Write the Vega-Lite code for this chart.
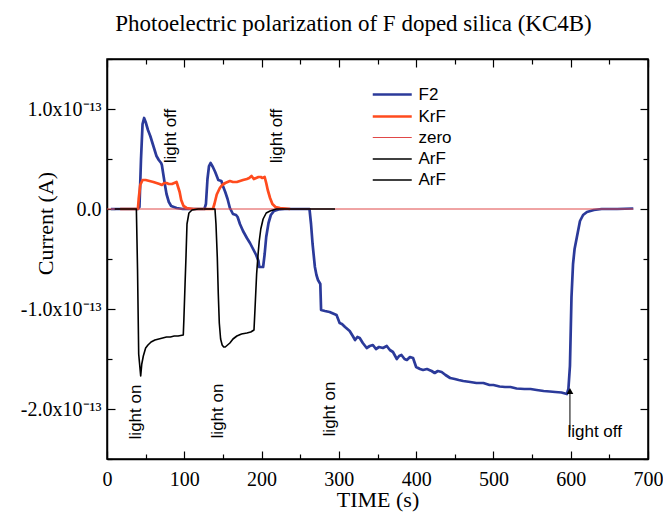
{
  "$schema": "https://vega.github.io/schema/vega-lite/v6.json",
  "width": 541,
  "height": 400,
  "autosize": "none",
  "padding": {"left": 107, "top": 59, "right": 15, "bottom": 56},
  "background": "white",
  "title": {
    "text": "Photoelectric polarization of F doped silica (KC4B)",
    "font": "Liberation Serif",
    "fontSize": 23,
    "fontWeight": "normal",
    "color": "black",
    "anchor": "middle",
    "frame": "group",
    "dx": -24,
    "offset": 22
  },
  "config": {
    "view": {"stroke": "black", "strokeWidth": 1.5},
    "axis": {
      "domainColor": "black",
      "domainWidth": 1.5,
      "tickColor": "black",
      "tickWidth": 1.2,
      "labelFont": "Liberation Serif",
      "labelFontSize": 20,
      "labelColor": "black",
      "labelFlush": false,
      "titleFont": "Liberation Serif",
      "titleFontSize": 22,
      "titleFontWeight": "normal",
      "titleColor": "black",
      "grid": false
    }
  },
  "datasets": {
    "curves": [
      {"series": "F2", "t": 5, "i": 0},
      {"series": "F2", "t": 20, "i": 0},
      {"series": "F2", "t": 40, "i": 0},
      {"series": "F2", "t": 42, "i": 0.02e-13},
      {"series": "F2", "t": 44, "i": 0.5e-13},
      {"series": "F2", "t": 46, "i": 0.85e-13},
      {"series": "F2", "t": 48, "i": 0.91e-13},
      {"series": "F2", "t": 50, "i": 0.87e-13},
      {"series": "F2", "t": 53, "i": 0.79e-13},
      {"series": "F2", "t": 56, "i": 0.73e-13},
      {"series": "F2", "t": 60, "i": 0.63e-13},
      {"series": "F2", "t": 64, "i": 0.53e-13},
      {"series": "F2", "t": 67, "i": 0.49e-13},
      {"series": "F2", "t": 70, "i": 0.46e-13},
      {"series": "F2", "t": 71, "i": 0.44e-13},
      {"series": "F2", "t": 73, "i": 0.34e-13},
      {"series": "F2", "t": 75, "i": 0.24e-13},
      {"series": "F2", "t": 77, "i": 0.15e-13},
      {"series": "F2", "t": 80, "i": 0.07e-13},
      {"series": "F2", "t": 83, "i": 0.03e-13},
      {"series": "F2", "t": 90, "i": 0.01e-13},
      {"series": "F2", "t": 98, "i": 0},
      {"series": "F2", "t": 126, "i": 0},
      {"series": "F2", "t": 128, "i": 0.05e-13},
      {"series": "F2", "t": 130, "i": 0.3e-13},
      {"series": "F2", "t": 132, "i": 0.43e-13},
      {"series": "F2", "t": 134, "i": 0.46e-13},
      {"series": "F2", "t": 137, "i": 0.42e-13},
      {"series": "F2", "t": 140, "i": 0.37e-13},
      {"series": "F2", "t": 142, "i": 0.33e-13},
      {"series": "F2", "t": 144, "i": 0.29e-13},
      {"series": "F2", "t": 148, "i": 0.28e-13},
      {"series": "F2", "t": 150, "i": 0.23e-13},
      {"series": "F2", "t": 153, "i": 0.17e-13},
      {"series": "F2", "t": 156, "i": 0.1e-13},
      {"series": "F2", "t": 159, "i": 0.01e-13},
      {"series": "F2", "t": 163, "i": -0.05e-13},
      {"series": "F2", "t": 167, "i": -0.06e-13},
      {"series": "F2", "t": 169, "i": -0.08e-13},
      {"series": "F2", "t": 172, "i": -0.15e-13},
      {"series": "F2", "t": 176, "i": -0.22e-13},
      {"series": "F2", "t": 181, "i": -0.29e-13},
      {"series": "F2", "t": 185, "i": -0.34e-13},
      {"series": "F2", "t": 189, "i": -0.4e-13},
      {"series": "F2", "t": 193, "i": -0.46e-13},
      {"series": "F2", "t": 196, "i": -0.52e-13},
      {"series": "F2", "t": 197, "i": -0.58e-13},
      {"series": "F2", "t": 202, "i": -0.58e-13},
      {"series": "F2", "t": 204, "i": -0.45e-13},
      {"series": "F2", "t": 206, "i": -0.28e-13},
      {"series": "F2", "t": 209, "i": -0.14e-13},
      {"series": "F2", "t": 212, "i": -0.06e-13},
      {"series": "F2", "t": 216, "i": -0.02e-13},
      {"series": "F2", "t": 222, "i": -0.005e-13},
      {"series": "F2", "t": 230, "i": 0},
      {"series": "F2", "t": 262, "i": 0},
      {"series": "F2", "t": 264, "i": -0.15e-13},
      {"series": "F2", "t": 266, "i": -0.35e-13},
      {"series": "F2", "t": 269, "i": -0.58e-13},
      {"series": "F2", "t": 271, "i": -0.66e-13},
      {"series": "F2", "t": 273, "i": -0.71e-13},
      {"series": "F2", "t": 276, "i": -0.75e-13},
      {"series": "F2", "t": 277, "i": -1.01e-13},
      {"series": "F2", "t": 282, "i": -1.02e-13},
      {"series": "F2", "t": 288, "i": -1.03e-13},
      {"series": "F2", "t": 294, "i": -1.05e-13},
      {"series": "F2", "t": 297, "i": -1.06e-13},
      {"series": "F2", "t": 299, "i": -1.1e-13},
      {"series": "F2", "t": 301, "i": -1.14e-13},
      {"series": "F2", "t": 304, "i": -1.15e-13},
      {"series": "F2", "t": 308, "i": -1.18e-13},
      {"series": "F2", "t": 311, "i": -1.2e-13},
      {"series": "F2", "t": 314, "i": -1.22e-13},
      {"series": "F2", "t": 318, "i": -1.27e-13},
      {"series": "F2", "t": 321, "i": -1.31e-13},
      {"series": "F2", "t": 324, "i": -1.28e-13},
      {"series": "F2", "t": 327, "i": -1.29e-13},
      {"series": "F2", "t": 331, "i": -1.34e-13},
      {"series": "F2", "t": 336, "i": -1.39e-13},
      {"series": "F2", "t": 340, "i": -1.37e-13},
      {"series": "F2", "t": 344, "i": -1.36e-13},
      {"series": "F2", "t": 348, "i": -1.4e-13},
      {"series": "F2", "t": 352, "i": -1.38e-13},
      {"series": "F2", "t": 357, "i": -1.39e-13},
      {"series": "F2", "t": 362, "i": -1.37e-13},
      {"series": "F2", "t": 366, "i": -1.41e-13},
      {"series": "F2", "t": 370, "i": -1.43e-13},
      {"series": "F2", "t": 375, "i": -1.5e-13},
      {"series": "F2", "t": 378, "i": -1.47e-13},
      {"series": "F2", "t": 381, "i": -1.46e-13},
      {"series": "F2", "t": 385, "i": -1.5e-13},
      {"series": "F2", "t": 388, "i": -1.51e-13},
      {"series": "F2", "t": 392, "i": -1.48e-13},
      {"series": "F2", "t": 396, "i": -1.49e-13},
      {"series": "F2", "t": 400, "i": -1.58e-13},
      {"series": "F2", "t": 405, "i": -1.6e-13},
      {"series": "F2", "t": 409, "i": -1.61e-13},
      {"series": "F2", "t": 414, "i": -1.6e-13},
      {"series": "F2", "t": 420, "i": -1.62e-13},
      {"series": "F2", "t": 424, "i": -1.64e-13},
      {"series": "F2", "t": 428, "i": -1.62e-13},
      {"series": "F2", "t": 433, "i": -1.63e-13},
      {"series": "F2", "t": 438, "i": -1.66e-13},
      {"series": "F2", "t": 444, "i": -1.69e-13},
      {"series": "F2", "t": 450, "i": -1.7e-13},
      {"series": "F2", "t": 455, "i": -1.71e-13},
      {"series": "F2", "t": 461, "i": -1.72e-13},
      {"series": "F2", "t": 470, "i": -1.73e-13},
      {"series": "F2", "t": 478, "i": -1.74e-13},
      {"series": "F2", "t": 487, "i": -1.74e-13},
      {"series": "F2", "t": 495, "i": -1.76e-13},
      {"series": "F2", "t": 500, "i": -1.76e-13},
      {"series": "F2", "t": 508, "i": -1.775e-13},
      {"series": "F2", "t": 515, "i": -1.78e-13},
      {"series": "F2", "t": 522, "i": -1.78e-13},
      {"series": "F2", "t": 530, "i": -1.795e-13},
      {"series": "F2", "t": 540, "i": -1.8e-13},
      {"series": "F2", "t": 548, "i": -1.8e-13},
      {"series": "F2", "t": 556, "i": -1.81e-13},
      {"series": "F2", "t": 565, "i": -1.82e-13},
      {"series": "F2", "t": 573, "i": -1.825e-13},
      {"series": "F2", "t": 580, "i": -1.83e-13},
      {"series": "F2", "t": 588, "i": -1.835e-13},
      {"series": "F2", "t": 595, "i": -1.85e-13},
      {"series": "F2", "t": 597, "i": -1.8e-13},
      {"series": "F2", "t": 599, "i": -1.57e-13},
      {"series": "F2", "t": 601, "i": -0.88e-13},
      {"series": "F2", "t": 603, "i": -0.55e-13},
      {"series": "F2", "t": 605, "i": -0.4e-13},
      {"series": "F2", "t": 608, "i": -0.28e-13},
      {"series": "F2", "t": 612, "i": -0.12e-13},
      {"series": "F2", "t": 616, "i": -0.06e-13},
      {"series": "F2", "t": 621, "i": -0.03e-13},
      {"series": "F2", "t": 630, "i": -0.01e-13},
      {"series": "F2", "t": 640, "i": 0},
      {"series": "F2", "t": 660, "i": 0},
      {"series": "F2", "t": 681, "i": 0.005e-13},
      {"series": "KrF", "t": 17, "i": 0},
      {"series": "KrF", "t": 40, "i": 0},
      {"series": "KrF", "t": 41, "i": 0.1e-13},
      {"series": "KrF", "t": 43, "i": 0.24e-13},
      {"series": "KrF", "t": 46, "i": 0.29e-13},
      {"series": "KrF", "t": 50, "i": 0.29e-13},
      {"series": "KrF", "t": 55, "i": 0.28e-13},
      {"series": "KrF", "t": 60, "i": 0.27e-13},
      {"series": "KrF", "t": 64, "i": 0.26e-13},
      {"series": "KrF", "t": 68, "i": 0.25e-13},
      {"series": "KrF", "t": 71, "i": 0.24e-13},
      {"series": "KrF", "t": 74, "i": 0.26e-13},
      {"series": "KrF", "t": 77, "i": 0.26e-13},
      {"series": "KrF", "t": 80, "i": 0.25e-13},
      {"series": "KrF", "t": 84, "i": 0.25e-13},
      {"series": "KrF", "t": 87, "i": 0.26e-13},
      {"series": "KrF", "t": 90, "i": 0.27e-13},
      {"series": "KrF", "t": 92, "i": 0.22e-13},
      {"series": "KrF", "t": 94, "i": 0.17e-13},
      {"series": "KrF", "t": 96, "i": 0.09e-13},
      {"series": "KrF", "t": 99, "i": 0.03e-13},
      {"series": "KrF", "t": 103, "i": 0.01e-13},
      {"series": "KrF", "t": 112, "i": 0},
      {"series": "KrF", "t": 137, "i": 0},
      {"series": "KrF", "t": 139, "i": 0.05e-13},
      {"series": "KrF", "t": 142, "i": 0.145e-13},
      {"series": "KrF", "t": 146, "i": 0.21e-13},
      {"series": "KrF", "t": 149, "i": 0.24e-13},
      {"series": "KrF", "t": 153, "i": 0.26e-13},
      {"series": "KrF", "t": 156, "i": 0.27e-13},
      {"series": "KrF", "t": 159, "i": 0.28e-13},
      {"series": "KrF", "t": 163, "i": 0.27e-13},
      {"series": "KrF", "t": 168, "i": 0.27e-13},
      {"series": "KrF", "t": 172, "i": 0.28e-13},
      {"series": "KrF", "t": 176, "i": 0.29e-13},
      {"series": "KrF", "t": 181, "i": 0.3e-13},
      {"series": "KrF", "t": 184, "i": 0.31e-13},
      {"series": "KrF", "t": 187, "i": 0.33e-13},
      {"series": "KrF", "t": 190, "i": 0.3e-13},
      {"series": "KrF", "t": 193, "i": 0.31e-13},
      {"series": "KrF", "t": 196, "i": 0.32e-13},
      {"series": "KrF", "t": 199, "i": 0.32e-13},
      {"series": "KrF", "t": 201, "i": 0.31e-13},
      {"series": "KrF", "t": 204, "i": 0.32e-13},
      {"series": "KrF", "t": 206, "i": 0.26e-13},
      {"series": "KrF", "t": 208, "i": 0.19e-13},
      {"series": "KrF", "t": 211, "i": 0.11e-13},
      {"series": "KrF", "t": 214, "i": 0.05e-13},
      {"series": "KrF", "t": 218, "i": 0.02e-13},
      {"series": "KrF", "t": 224, "i": 0.01e-13},
      {"series": "KrF", "t": 237, "i": 0},
      {"series": "zero", "t": 0, "i": 0},
      {"series": "zero", "t": 681, "i": 0},
      {"series": "ArF1", "t": 10, "i": 0},
      {"series": "ArF1", "t": 38, "i": 0},
      {"series": "ArF1", "t": 39.5, "i": -0.6e-13},
      {"series": "ArF1", "t": 41, "i": -1.45e-13},
      {"series": "ArF1", "t": 43.6, "i": -1.67e-13},
      {"series": "ArF1", "t": 45, "i": -1.55e-13},
      {"series": "ArF1", "t": 47, "i": -1.47e-13},
      {"series": "ArF1", "t": 50, "i": -1.39e-13},
      {"series": "ArF1", "t": 53, "i": -1.36e-13},
      {"series": "ArF1", "t": 57, "i": -1.33e-13},
      {"series": "ArF1", "t": 62, "i": -1.31e-13},
      {"series": "ArF1", "t": 67, "i": -1.3e-13},
      {"series": "ArF1", "t": 72, "i": -1.29e-13},
      {"series": "ArF1", "t": 77, "i": -1.28e-13},
      {"series": "ArF1", "t": 82, "i": -1.28e-13},
      {"series": "ArF1", "t": 87, "i": -1.27e-13},
      {"series": "ArF1", "t": 92, "i": -1.27e-13},
      {"series": "ArF1", "t": 98.7, "i": -1.26e-13},
      {"series": "ArF1", "t": 99.5, "i": -1.1e-13},
      {"series": "ArF1", "t": 101, "i": -0.75e-13},
      {"series": "ArF1", "t": 102.2, "i": -0.48e-13},
      {"series": "ArF1", "t": 103.5, "i": -0.15e-13},
      {"series": "ArF1", "t": 106, "i": -0.04e-13},
      {"series": "ArF1", "t": 110, "i": -0.01e-13},
      {"series": "ArF1", "t": 118, "i": 0},
      {"series": "ArF1", "t": 125, "i": 0},
      {"series": "ArF2", "t": 125, "i": 0},
      {"series": "ArF2", "t": 139.7, "i": 0},
      {"series": "ArF2", "t": 141, "i": -0.15e-13},
      {"series": "ArF2", "t": 142.7, "i": -0.48e-13},
      {"series": "ArF2", "t": 144, "i": -0.85e-13},
      {"series": "ArF2", "t": 145.3, "i": -1.14e-13},
      {"series": "ArF2", "t": 147, "i": -1.3e-13},
      {"series": "ArF2", "t": 149, "i": -1.36e-13},
      {"series": "ArF2", "t": 151, "i": -1.38e-13},
      {"series": "ArF2", "t": 153, "i": -1.38e-13},
      {"series": "ArF2", "t": 156, "i": -1.36e-13},
      {"series": "ArF2", "t": 159, "i": -1.34e-13},
      {"series": "ArF2", "t": 163, "i": -1.3e-13},
      {"series": "ArF2", "t": 168, "i": -1.27e-13},
      {"series": "ArF2", "t": 174, "i": -1.25e-13},
      {"series": "ArF2", "t": 181, "i": -1.24e-13},
      {"series": "ArF2", "t": 186, "i": -1.23e-13},
      {"series": "ArF2", "t": 190.2, "i": -1.21e-13},
      {"series": "ArF2", "t": 191.5, "i": -1.0e-13},
      {"series": "ArF2", "t": 193.6, "i": -0.65e-13},
      {"series": "ArF2", "t": 195.5, "i": -0.45e-13},
      {"series": "ArF2", "t": 197, "i": -0.32e-13},
      {"series": "ArF2", "t": 199, "i": -0.2e-13},
      {"series": "ArF2", "t": 202, "i": -0.1e-13},
      {"series": "ArF2", "t": 206, "i": -0.04e-13},
      {"series": "ArF2", "t": 211, "i": -0.02e-13},
      {"series": "ArF2", "t": 219, "i": 0},
      {"series": "ArF2", "t": 295, "i": 0}
    ],
    "vnotes": [
      {"label": "light off", "t": 82.8, "i": 0.73e-13},
      {"label": "light off", "t": 219.5, "i": 0.73e-13},
      {"label": "light on", "t": 37.5, "i": -2.03e-13},
      {"label": "light on", "t": 143.6, "i": -2.02e-13},
      {"label": "light on", "t": 288.5, "i": -2.0e-13}
    ],
    "hnotes": [
      {"label": "light off", "t": 631, "i": -2.23e-13}
    ],
    "arrow": [
      {"t": 599, "i0": -2.21e-13, "i1": -1.82e-13}
    ]
  },
  "resolve": {"axis": {"x": "independent", "y": "independent"}},
  "layer": [
    {
      "data": {"name": "curves"},
      "mark": {"type": "line", "strokeJoin": "round"},
      "encoding": {
        "x": {
          "field": "t",
          "type": "quantitative",
          "scale": {"domain": [0, 700], "nice": false, "zero": false},
          "axis": {
            "values": [0, 50, 100, 150, 200, 250, 300, 350, 400, 450, 500, 550, 600, 650, 700],
            "labelExpr": "datum.value % 100 == 0 ? datum.label : ''",
            "tickSize": {"condition": {"test": "datum.value % 100 == 0", "value": -8}, "value": -5},
            "labelPadding": 18,
            "title": "TIME (s)",
            "titlePadding": 0
          }
        },
        "y": {
          "field": "i",
          "type": "quantitative",
          "scale": {"domain": [-2.5e-13, 1.5e-13], "nice": false, "zero": false},
          "axis": {
            "values": [-2.5e-13, -2e-13, -1.5e-13, -1e-13, -0.5e-13, 0, 0.5e-13, 1e-13, 1.5e-13],
            "labelExpr": "abs(datum.value) < 1e-20 ? '0.0' : (abs(datum.value*1e13 - round(datum.value*1e13)) < 0.01 ? (datum.value < 0 ? '-' : '') + format(abs(datum.value)*1e13, '.1f') + 'x10⁻¹³' : '')",
            "tickSize": {"condition": {"test": "abs(datum.value*1e13 - round(datum.value*1e13)) < 0.01", "value": -8}, "value": -5},
            "labelPadding": 14,
            "title": "Current (A)",
            "titleBaseline": "middle",
            "titleX": -62,
            "titleY": 164
          }
        },
        "color": {
          "field": "series",
          "type": "nominal",
          "scale": {
            "domain": ["F2", "KrF", "zero", "ArF1", "ArF2"],
            "range": ["#2B3A9A", "#FF4B1E", "#E04848", "#000000", "#000000"]
          },
          "legend": {
            "title": null,
            "orient": "none",
            "legendX": 264,
            "legendY": 24,
            "symbolType": "M-1,0H3",
            "symbolSize": 380,
            "labelOffset": 24.5,
            "labelFont": "Liberation Sans",
            "labelFontSize": 17,
            "labelColor": "black",
            "labelExpr": "indexof(datum.label, 'ArF') == 0 ? 'ArF' : datum.label"
          }
        },
        "strokeWidth": {
          "field": "series",
          "type": "ordinal",
          "scale": {
            "type": "ordinal",
            "domain": ["F2", "KrF", "zero", "ArF1", "ArF2"],
            "range": [2.7, 2.7, 1, 1.6, 1.6]
          },
          "legend": {
            "title": null,
            "orient": "none",
            "legendX": 264,
            "legendY": 24,
            "symbolType": "M-1,0H3",
            "symbolSize": 380,
            "labelOffset": 24.5,
            "labelFont": "Liberation Sans",
            "labelFontSize": 17,
            "labelColor": "black",
            "labelExpr": "indexof(datum.label, 'ArF') == 0 ? 'ArF' : datum.label"
          }
        }
      }
    },
    {
      "data": {"name": "vnotes"},
      "mark": {"type": "text", "angle": 270, "font": "Liberation Sans", "fontSize": 17, "align": "center", "baseline": "middle", "color": "black"},
      "encoding": {
        "x": {
          "field": "t",
          "type": "quantitative",
          "axis": {
            "orient": "top",
            "values": [0, 50, 100, 150, 200, 250, 300, 350, 400, 450, 500, 550, 600, 650, 700],
            "labels": false,
            "title": null,
            "tickSize": {"condition": {"test": "datum.value % 100 == 0", "value": -8}, "value": -5}
          }
        },
        "y": {
          "field": "i",
          "type": "quantitative",
          "axis": {
            "orient": "right",
            "values": [-2.5e-13, -2e-13, -1.5e-13, -1e-13, -0.5e-13, 0, 0.5e-13, 1e-13, 1.5e-13],
            "labels": false,
            "title": null,
            "tickSize": {"condition": {"test": "abs(datum.value*1e13 - round(datum.value*1e13)) < 0.01", "value": -8}, "value": -5}
          }
        },
        "text": {"field": "label"}
      }
    },
    {
      "data": {"name": "hnotes"},
      "mark": {"type": "text", "font": "Liberation Sans", "fontSize": 17, "align": "center", "baseline": "middle", "color": "black"},
      "encoding": {
        "x": {"field": "t", "type": "quantitative", "axis": null},
        "y": {"field": "i", "type": "quantitative", "axis": null},
        "text": {"field": "label"}
      }
    },
    {
      "data": {"name": "arrow"},
      "mark": {"type": "rule", "color": "black", "strokeWidth": 1},
      "encoding": {
        "x": {"field": "t", "type": "quantitative", "axis": null},
        "y": {"field": "i0", "type": "quantitative", "axis": null},
        "y2": {"field": "i1"}
      }
    },
    {
      "data": {"name": "arrow"},
      "mark": {"type": "point", "shape": "triangle-up", "filled": true, "color": "black", "size": 45, "opacity": 1},
      "encoding": {
        "x": {"field": "t", "type": "quantitative", "axis": null},
        "y": {"field": "i1", "type": "quantitative", "axis": null}
      }
    }
  ]
}
